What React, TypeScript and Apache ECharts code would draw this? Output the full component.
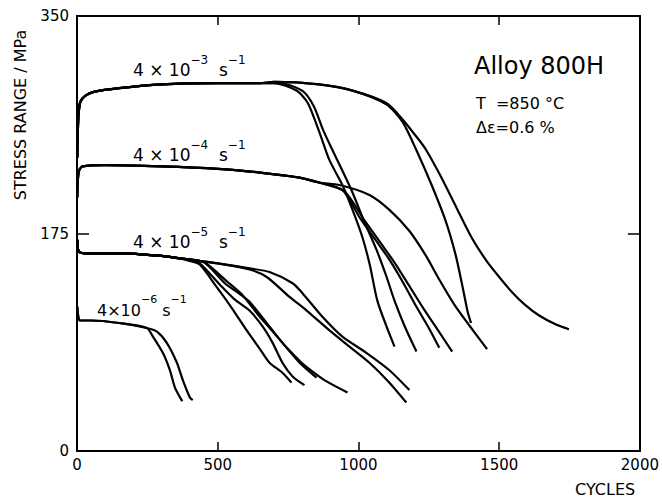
import React, { useEffect, useRef } from "react";
import * as echarts from "echarts";

// Axis ticks
const xTickValues = [0, 500, 1000, 1500, 2000];
const yTickValues = [0, 175, 350];

// Strain rate 4×10⁻³ s⁻¹  [cycles, stress range MPa]
const plateau3 = [[1, 236], [3, 258], [6, 272], [12, 281], [30, 286], [60, 289], [150, 292], [300, 295], [500, 296], [650, 296]];
const rate3A = [...plateau3, [700, 296], [780, 290], [820, 280], [862, 256], [897, 234], [943, 214], [979, 194], [1014, 172], [1040, 150], [1067, 121], [1100, 100], [1128, 84]];
const rate3B = [...plateau3, [720, 296], [800, 290], [840, 278], [875, 258], [908, 242], [975, 210], [1020, 185], [1064, 162], [1100, 140], [1128, 121], [1165, 100], [1206, 80]];
const rate3C = [...plateau3, [700, 297], [860, 295], [979, 290], [1099, 279], [1156, 265], [1206, 242], [1260, 214], [1310, 185], [1345, 158], [1370, 132], [1388, 112], [1400, 103]];
const rate3D = [...plateau3, [700, 297], [860, 295], [979, 290], [1099, 280], [1156, 267], [1216, 250], [1241, 242], [1290, 222], [1350, 195], [1404, 171], [1455, 153], [1500, 140], [1545, 128], [1590, 118], [1642, 109], [1700, 102], [1748, 98]];

// Strain rate 4×10⁻⁴ s⁻¹
const plateau4 = [[1, 204], [3, 218], [8, 226], [20, 229], [100, 230], [300, 229], [500, 227], [650, 224], [790, 220], [860, 216]];
const rate4A = [...plateau4, [943, 210], [1004, 188], [1060, 170], [1110, 154], [1160, 135], [1206, 116], [1250, 99], [1287, 83]];
const rate4B = [...plateau4, [950, 209], [1020, 186], [1080, 167], [1130, 151], [1180, 133], [1230, 115], [1280, 98], [1333, 80]];
const rate4C = [...plateau4, [933, 214], [1039, 206], [1110, 194], [1181, 177], [1240, 157], [1287, 138], [1340, 118], [1394, 101], [1457, 82]];

// Strain rate 4×10⁻⁵ s⁻¹
const plateau5 = [[1, 170], [3, 163], [8, 160], [30, 159], [150, 159], [300, 157], [365, 155]];
const rate5A = [...plateau5, [500, 151], [613, 146], [674, 140], [755, 124], [816, 113], [897, 97], [968, 84], [1039, 71], [1110, 55], [1170, 39]];
const rate5B = [...plateau5, [500, 151], [613, 147], [684, 144], [766, 135], [801, 127], [872, 108], [943, 92], [1028, 79], [1110, 65], [1181, 49]];
const rate5C = [...plateau5, [400, 153], [436, 150], [496, 132], [550, 115], [603, 97], [650, 82], [684, 71], [730, 63], [762, 55]];
const rate5D = [...plateau5, [400, 154], [436, 151], [507, 134], [560, 122], [613, 113], [660, 100], [695, 87], [730, 71], [766, 60], [808, 53]];
const rate5E = [...plateau5, [450, 152], [525, 135], [580, 126], [613, 120], [674, 103], [730, 87], [791, 71], [851, 59]];
const rate5F = [...plateau5, [450, 152], [535, 136], [590, 125], [642, 110], [700, 95], [750, 82], [798, 71], [830, 65], [879, 57], [961, 47]];

// Strain rate 4×10⁻⁶ s⁻¹
const plateau6 = [[1, 116], [4, 109], [10, 105], [50, 105], [150, 103], [248, 99]];
const rate6A = [...plateau6, [270, 92], [305, 79], [330, 65], [348, 51], [374, 40]];
const rate6B = [...plateau6, [284, 96], [319, 87], [355, 71], [376, 57], [401, 43], [411, 41]];

const curves = [rate3A, rate3B, rate3C, rate3D, rate4A, rate4B, rate4C, rate5A, rate5B, rate5C, rate5D, rate5E, rate5F, rate6A, rate6B];

const rateExponents = ["−3", "−4", "−5", "−6"];

const FONT = "'DejaVu Sans', sans-serif";

function rateLabel(exp: string, x: number, y: number, big: number, small: number, gap: string) {
  return {
    type: "text",
    left: x,
    top: y,
    style: {
      text: `{n|4${gap}×${gap}10}{s|${exp}}{n|${gap} s}{s|−1}`,
      fontFamily: FONT,
      fill: "#000",
      rich: {
        n: { fontSize: big, fontFamily: FONT, fill: "#000", lineHeight: 24, verticalAlign: "bottom" },
        s: { fontSize: small, fontFamily: FONT, fill: "#000", lineHeight: 13, verticalAlign: "top" },
      },
    },
  };
}

export default function App() {
  const ref = useRef<HTMLDivElement>(null);
  useEffect(() => {
    if (!ref.current) return;
    const chart = echarts.init(ref.current, null, { renderer: "svg" });
    const black = "#000";
    const baseX = {
      type: "value",
      min: xTickValues[0],
      max: xTickValues[xTickValues.length - 1],
      interval: 500,
      splitLine: { show: false },
      axisLine: { show: true, onZero: false, lineStyle: { color: black, width: 2 } },
    };
    const baseY = {
      type: "value",
      min: yTickValues[0],
      max: yTickValues[yTickValues.length - 1],
      interval: 175,
      splitLine: { show: false },
      axisLine: { show: true, onZero: false, lineStyle: { color: black, width: 2 } },
    };
    chart.setOption({
      animation: false,
      backgroundColor: "#fff",
      grid: { left: 77, right: 21, top: 16, bottom: 49, containLabel: false },
      xAxis: [
        {
          ...baseX,
          position: "bottom",
          axisTick: { show: true, inside: true, length: 9, lineStyle: { color: black, width: 1.5 } },
          axisLabel: { show: true, margin: 6, color: black, fontSize: 15, fontFamily: FONT, formatter: (v: number) => String(v) },
        },
        {
          ...baseX,
          position: "top",
          axisTick: { show: true, inside: true, length: 9, lineStyle: { color: black, width: 1.5 } },
          axisLabel: { show: false },
        },
      ],
      yAxis: [
        {
          ...baseY,
          position: "left",
          axisTick: { show: true, inside: true, length: 12, lineStyle: { color: black, width: 1.5 } },
          axisLabel: { show: true, margin: 8, color: black, fontSize: 15, fontFamily: FONT, formatter: (v: number) => String(v) },
        },
        {
          ...baseY,
          position: "right",
          axisTick: { show: true, inside: true, length: 12, lineStyle: { color: black, width: 1.5 } },
          axisLabel: { show: false },
        },
      ],
      series: curves.map((d) => ({
        type: "line",
        xAxisIndex: 0,
        yAxisIndex: 0,
        data: d,
        showSymbol: false,
        smooth: 0.25,
        silent: true,
        lineStyle: { color: black, width: 2.2 },
      })),
      graphic: [
        rateLabel(rateExponents[0], 133, 54, 17, 12, " "),
        rateLabel(rateExponents[1], 133, 139, 17, 12, " "),
        rateLabel(rateExponents[2], 133, 226, 17, 12, " "),
        rateLabel(rateExponents[3], 97, 294, 16, 11, ""),
        { type: "text", left: 474, top: 54, style: { text: "Alloy 800H", fontSize: 24, fontFamily: FONT, fill: black } },
        { type: "text", left: 476, top: 95, style: { text: "T  =850 °C", fontSize: 16, fontFamily: FONT, fill: black } },
        { type: "text", left: 476, top: 119, style: { text: "Δε=0.6 %", fontSize: 16, fontFamily: FONT, fill: black } },
        { type: "text", left: 575, top: 481, style: { text: "CYCLES", fontSize: 16, fontFamily: FONT, fill: black } },
        {
          type: "text",
          x: 20,
          y: 115,
          rotation: Math.PI / 2,
          style: {
            text: "STRESS RANGE / MPa",
            fontSize: 16,
            fontFamily: FONT,
            fill: black,
            align: "center",
            verticalAlign: "middle",
          },
        },
      ],
    });
    return () => chart.dispose();
  }, []);
  return (
    <div
      ref={ref}
      style={{ position: "fixed", left: 0, top: 0, width: 662, height: 500, background: "#fff" }}
    />
  );
}
